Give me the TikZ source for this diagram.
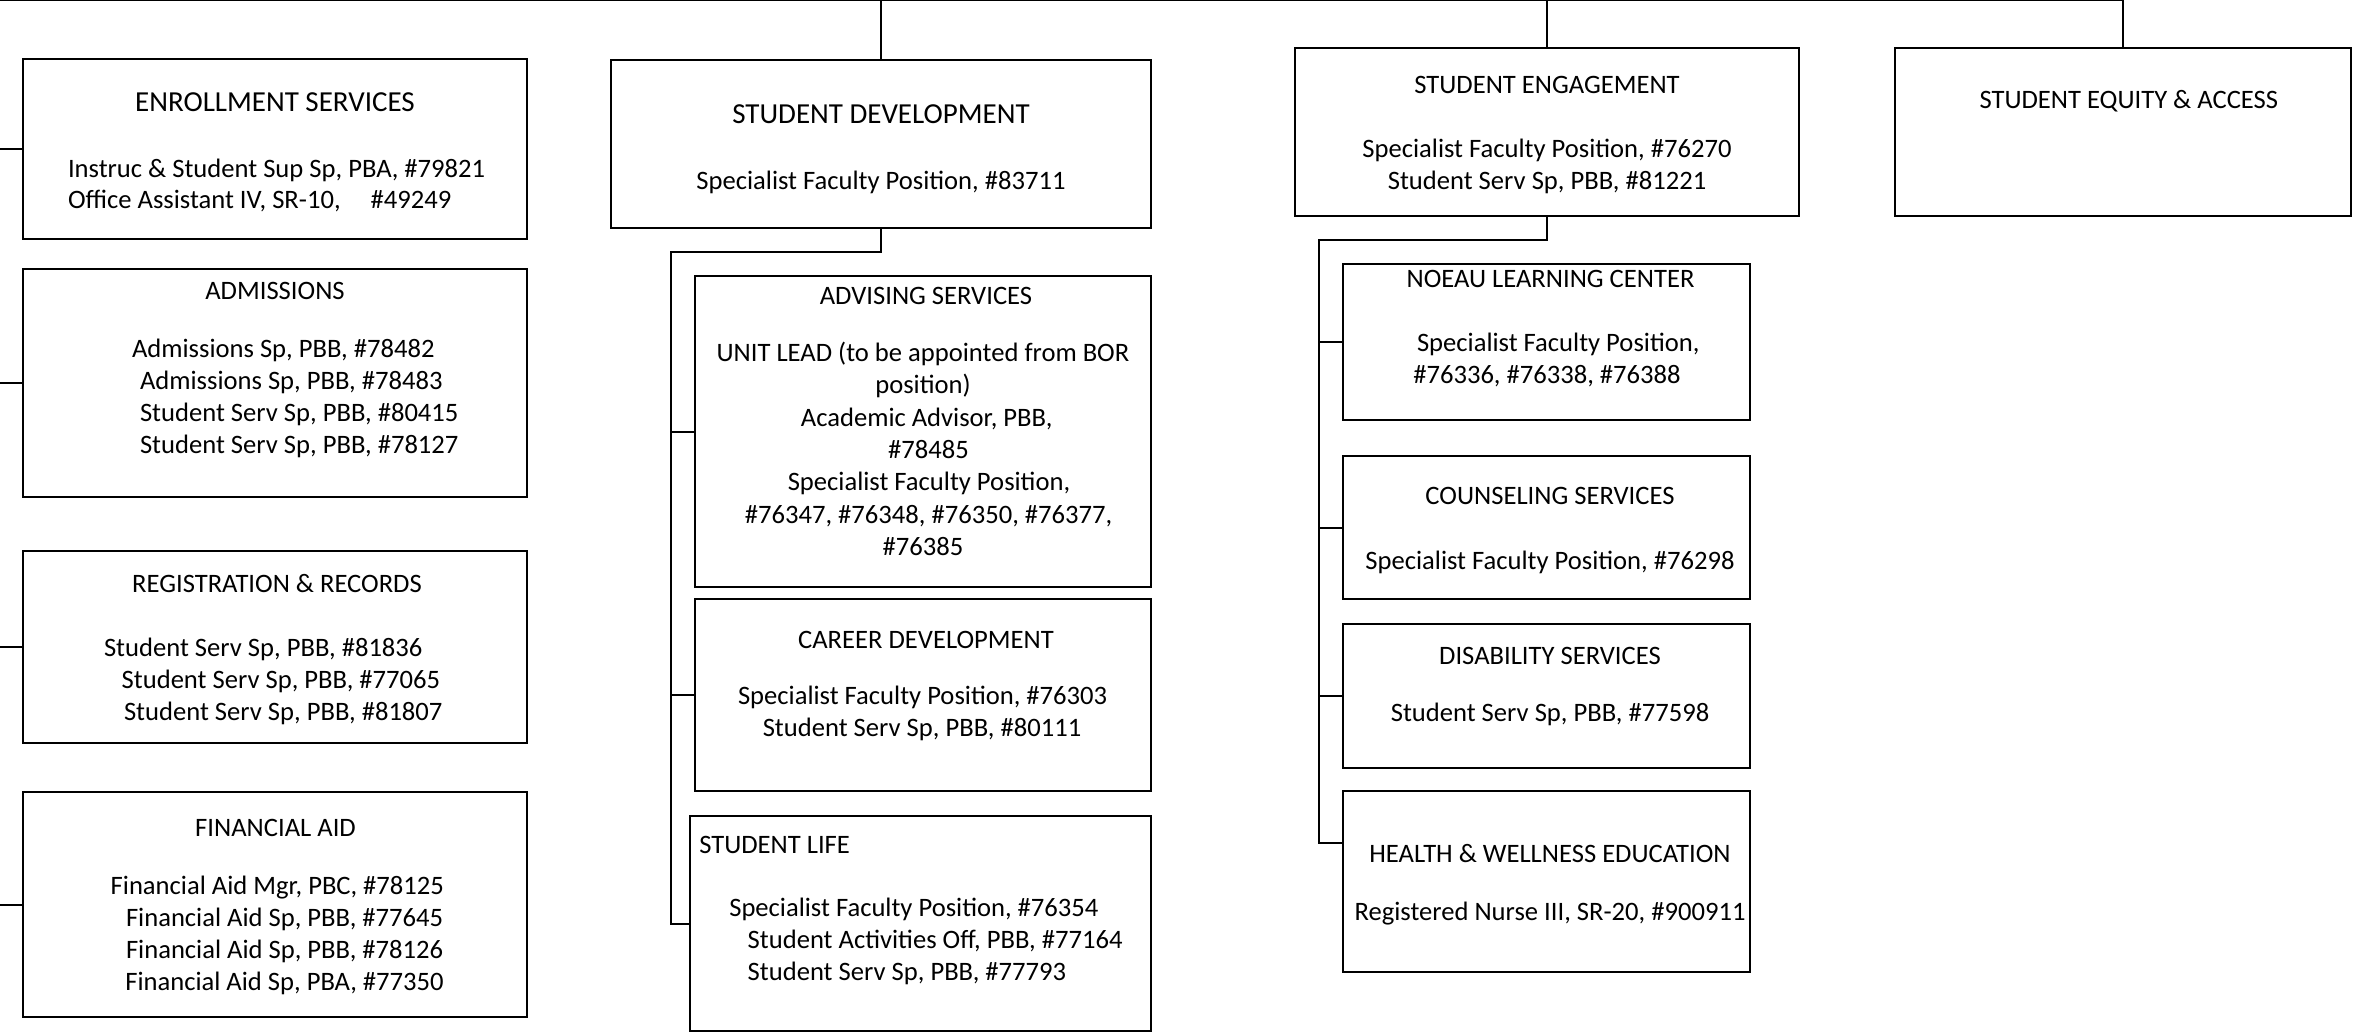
\documentclass[tikz,border=0pt]{standalone}
\usepackage{fontspec}
\setmainfont{Carlito}
\newcommand\bodyfnt{\fontsize{26.6}{32}\selectfont}
\newcommand\bigfnt{\fontsize{29}{35}\selectfont}
\begin{document}
\begin{tikzpicture}[x=1pt,y=-1pt,
  box/.style={draw, line width=2pt, rectangle, inner sep=0pt, outer sep=0pt, anchor=north west},
  wire/.style={line width=2pt},
  tx/.style={inner sep=0pt, outer sep=0pt, font=\bodyfnt, anchor=base},
  txl/.style={tx, anchor=base west},
  txb/.style={tx, font=\bigfnt}]
\useasboundingbox (0,0) rectangle (2354,1032);

% ---------- boxes ----------
\node[box, minimum width=504pt, minimum height=180pt] (es) at (23,59) {};
\node[box, minimum width=504pt, minimum height=228pt] (ad) at (23,269) {};
\node[box, minimum width=504pt, minimum height=192pt] (rr) at (23,551) {};
\node[box, minimum width=504pt, minimum height=225pt] (fa) at (23,792) {};

\node[box, minimum width=540pt, minimum height=168pt] (sd) at (611,60) {};
\node[box, minimum width=456pt, minimum height=311pt] (adv) at (695,276) {};
\node[box, minimum width=456pt, minimum height=192pt] (car) at (695,599) {};
\node[box, minimum width=461pt, minimum height=215pt] (sl) at (690,816) {};

\node[box, minimum width=504pt, minimum height=168pt] (se) at (1295,48) {};
\node[box, minimum width=407pt, minimum height=156pt] (no) at (1343,264) {};
\node[box, minimum width=407pt, minimum height=143pt] (co) at (1343,456) {};
\node[box, minimum width=407pt, minimum height=143.5pt] (di) at (1343,624) {};
\node[box, minimum width=407pt, minimum height=181pt] (hw) at (1343,791) {};

\node[box, minimum width=456pt, minimum height=168pt] (eq) at (1895,48) {};

% ---------- connectors ----------
\coordinate (top) at (0,0.5);
\coordinate (lft) at (0,0);
\coordinate (sdbus) at (671,252);
\coordinate (sebus) at (1319,240);

\draw[wire] (top) -| (eq.north);
\draw[wire] (sd.north) -- (sd.north |- top);
\draw[wire] (se.north) -- (se.north |- top);

\draw[wire] (lft |- es.west) -- (es.west);
\draw[wire] (lft |- ad.west) -- (ad.west);
\draw[wire] (lft |- rr.west) -- (rr.west);
\draw[wire] (lft |- fa.west) -- (fa.west);

\draw[wire] (sd.south) |- (sdbus) |- (sl.west);
\draw[wire] (sdbus |- adv.west) -- (adv.west);
\draw[wire] (sdbus |- car.west) -- (car.west);

\draw[wire] (se.south) |- (sebus) |- ([yshift=-52pt]hw.north west);
\draw[wire] (sebus |- no.west) -- (no.west);
\draw[wire] (sebus |- co.west) -- (co.west);
\draw[wire] (sebus |- di.west) -- (di.west);

% ---------- texts ----------
\begin{scope}[yshift=-1.5pt]
% Enrollment Services
\node[txb] (es-t) at (275,110.5) {ENROLLMENT SERVICES};
\node[txl] (es-1) at (68,176) {Instruc \& Student Sup Sp, PBA, \#79821};
\node[txl] (es-2) at (68,207) {Office Assistant IV, SR-10,\hspace*{24pt} \#49249};

% Admissions
\node[tx] (ad-t) at (275,298) {ADMISSIONS};
\node[txl] (ad-1) at (132,356) {Admissions Sp, PBB, \#78482};
\node[txl] (ad-2) at (140,388) {Admissions Sp, PBB, \#78483};
\node[txl] (ad-3) at (140,420) {Student Serv Sp, PBB, \#80415};
\node[txl] (ad-4) at (140,452) {Student Serv Sp, PBB, \#78127};

% Registration & Records
\node[tx] (rr-t) at (277,591) {REGISTRATION \& RECORDS};
\node[txl] (rr-1) at (104,655) {Student Serv Sp, PBB, \#81836};
\node[txl] (rr-2) at (121.7,687) {Student Serv Sp, PBB, \#77065};
\node[txl] (rr-3) at (124,719) {Student Serv Sp, PBB, \#81807};

% Financial Aid
\node[tx] (fa-t) at (275.5,835) {FINANCIAL AID};
\node[txl] (fa-1) at (110.7,893) {Financial Aid Mgr, PBC, \#78125};
\node[txl] (fa-2) at (126,925) {Financial Aid Sp, PBB, \#77645};
\node[txl] (fa-3) at (126,957) {Financial Aid Sp, PBB, \#78126};
\node[txl] (fa-4) at (125.3,989) {Financial Aid Sp, PBA, \#77350};

% Student Development
\node[txb] (sd-t) at (881,122) {STUDENT DEVELOPMENT};
\node[tx] (sd-1) at (881,188) {Specialist Faculty Position, \#83711};

% Advising Services
\node[tx] (adv-t) at (926,303) {ADVISING SERVICES};
\node[tx] (adv-1) at (923,360) {UNIT LEAD (to be appointed from BOR};
\node[tx] (adv-2) at (923,392) {position)};
\node[tx] (adv-3) at (926.6,424.5) {Academic Advisor, PBB,};
\node[tx] (adv-4) at (928.4,457) {\#78485};
\node[tx] (adv-5) at (929,489) {Specialist Faculty Position,};
\node[tx] (adv-6) at (928.5,521.5) {\#76347, \#76348, \#76350, \#76377,};
\node[tx] (adv-7) at (923,554) {\#76385};

% Career Development
\node[tx] (car-t) at (926,647) {CAREER DEVELOPMENT};
\node[tx] (car-1) at (922.6,703) {Specialist Faculty Position, \#76303};
\node[tx] (car-2) at (922,735) {Student Serv Sp, PBB, \#80111};

% Student Life
\node[txl] (sl-t) at (699.3,852) {STUDENT LIFE};
\node[txl] (sl-1) at (729.3,915) {Specialist Faculty Position, \#76354};
\node[txl] (sl-2) at (747.7,947) {Student Activities Off, PBB, \#77164};
\node[txl] (sl-3) at (747.7,979) {Student Serv Sp, PBB, \#77793};

% Student Engagement
\node[tx] (se-t) at (1547,92.3) {STUDENT ENGAGEMENT};
\node[tx] (se-1) at (1547,156) {Specialist Faculty Position, \#76270};
\node[tx] (se-2) at (1547,188) {Student Serv Sp, PBB, \#81221};

% Noeau Learning Center
\node[tx] (no-t) at (1550.5,286) {NOEAU LEARNING CENTER};
\node[txl] (no-1) at (1417,350.5) {Specialist Faculty Position,};
\node[txl] (no-2) at (1413.3,382) {\#76336, \#76338, \#76388};

% Counseling Services
\node[tx] (co-t) at (1550,503) {COUNSELING SERVICES};
\node[tx] (co-1) at (1550,567.5) {Specialist Faculty Position, \#76298};

% Disability Services
\node[tx] (di-t) at (1550,662.5) {DISABILITY SERVICES};
\node[tx] (di-1) at (1550,719.5) {Student Serv Sp, PBB, \#77598};

% Health & Wellness Education
\node[tx] (hw-t) at (1550,861) {HEALTH \& WELLNESS EDUCATION};
\node[tx] (hw-1) at (1550,918.5) {Registered Nurse III, SR-20, \#900911};

% Student Equity & Access
\node[tx] (eq-t) at (2128.8,107.3) {STUDENT EQUITY \& ACCESS};
\end{scope}
\end{tikzpicture}
\end{document}
